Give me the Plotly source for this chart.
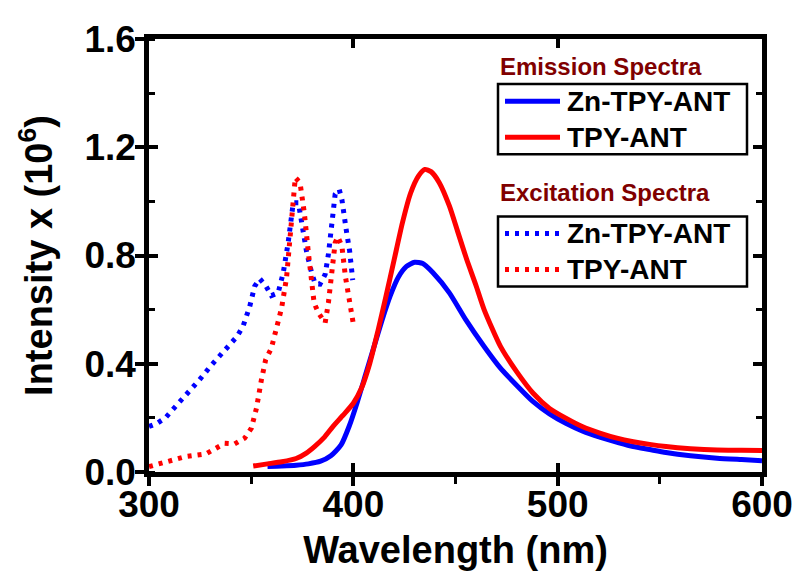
import plotly.graph_objects as go

# ---------------- data ----------------
em_zn_wl = [358, 365, 372, 378, 384, 389, 394, 398, 402, 406, 410, 414, 418, 422, 426, 430,
            434, 439, 447, 455, 464, 472, 480, 488, 496, 504, 512, 521, 530, 537, 545, 553,
            565, 578, 590, 600]
em_zn_i = [0.02, 0.022, 0.025, 0.03, 0.04, 0.06, 0.1, 0.17, 0.26, 0.36, 0.46, 0.56, 0.65, 0.72,
           0.76, 0.775, 0.77, 0.736, 0.662, 0.563, 0.464, 0.384, 0.32, 0.26, 0.215, 0.18, 0.152,
           0.128, 0.108, 0.094, 0.083, 0.072, 0.06, 0.051, 0.046, 0.042]

em_tpy_wl = [351, 358, 365, 372, 377, 381, 386, 390, 395, 400, 404, 408, 412, 416, 420, 424,
             428, 432, 435, 438, 442, 447, 451, 455.5, 460, 464, 472, 480, 488, 496, 504, 512,
             521, 529, 537, 545, 553, 565, 578, 590, 600]
em_tpy_i = [0.022, 0.03, 0.038, 0.05, 0.07, 0.094, 0.13, 0.168, 0.21, 0.254, 0.31, 0.40, 0.52,
            0.65, 0.785, 0.92, 1.03, 1.095, 1.118, 1.11, 1.07, 0.983, 0.89, 0.785, 0.69, 0.6,
            0.464, 0.37, 0.291, 0.235, 0.199, 0.168, 0.143, 0.125, 0.112, 0.102, 0.094, 0.086,
            0.081, 0.08, 0.079]

ex_zn_wl = [300, 304, 308, 313, 318, 324.6, 330, 335.3, 339.4, 343, 346, 349.3, 351.7, 354.2,
            357.1, 359.9, 363.2, 365.7, 368.1, 369.8, 370.6, 373.1, 374.7, 377.2, 379.6, 381.3,
            383.7, 386.2, 387.8, 389.5, 391.1, 393.1, 394.4, 396.5, 398.2, 399.7]
ex_zn_i = [0.168, 0.18, 0.2, 0.242, 0.28, 0.34, 0.39, 0.433, 0.47, 0.5, 0.538, 0.612, 0.686,
           0.714, 0.689, 0.652, 0.662, 0.736, 0.847, 0.958, 0.995, 0.995, 0.921, 0.81, 0.736,
           0.696, 0.694, 0.73, 0.804, 0.909, 1.026, 1.044, 1.007, 0.896, 0.816, 0.709]

ex_tpy_wl = [300, 308.2, 318, 327.9, 337, 341.9, 346.8, 350.1, 352.6, 355, 357.1, 359.9, 362.7,
             364.9, 367.3, 369, 370.3, 371.6, 373.9, 376, 378, 379.6, 380.8, 382.9, 386.2,
             387.8, 389.5, 391.1, 392.4, 394.4, 396.1, 398.2, 400.2]
ex_tpy_i = [0.02, 0.038, 0.057, 0.067, 0.106, 0.104, 0.125, 0.162, 0.236, 0.34, 0.415, 0.458,
            0.532, 0.606, 0.717, 0.859, 0.995, 1.088, 1.069, 0.958, 0.81, 0.699, 0.625, 0.588,
            0.551, 0.625, 0.736, 0.847, 0.869, 0.835, 0.723, 0.612, 0.538]

series_names = ["Zn-TPY-ANT", "TPY-ANT"]
group_titles = ["Emission Spectra", "Excitation Spectra"]
x_ticks = [300, 400, 500, 600]
y_ticks = [0.0, 0.4, 0.8, 1.2, 1.6]

BLUE = "#0000FF"
RED = "#FF0000"
DARKRED = "#800000"
FONT = "Liberation Sans, Arial, sans-serif"
DOT = "4px,6px"

fig = go.Figure()
fig.add_trace(go.Scatter(x=ex_zn_wl, y=ex_zn_i, mode="lines", name=series_names[0],
                         line=dict(color=BLUE, width=5, dash=DOT)))
fig.add_trace(go.Scatter(x=ex_tpy_wl, y=ex_tpy_i, mode="lines", name=series_names[1],
                         line=dict(color=RED, width=5, dash=DOT)))
fig.add_trace(go.Scatter(x=em_zn_wl, y=em_zn_i, mode="lines", name=series_names[0],
                         line=dict(color=BLUE, width=5, shape="spline", smoothing=0.6)))
fig.add_trace(go.Scatter(x=em_tpy_wl, y=em_tpy_i, mode="lines", name=series_names[1],
                         line=dict(color=RED, width=5, shape="spline", smoothing=0.6)))
# invisible trace that activates the overlay axes (used for crossing ticks)
fig.add_trace(go.Scatter(x=[None], y=[None], xaxis="x2", yaxis="y2", showlegend=False,
                         hoverinfo="skip"))

tickfont = dict(family=FONT, size=37, color="black", weight="bold")
common = dict(showgrid=False, zeroline=False, linecolor="black", linewidth=4.5,
              tickcolor="black", tickwidth=3.5, automargin=False)

fig.update_layout(
    width=798, height=574,
    margin=dict(l=149, r=36, t=39, b=102),
    paper_bgcolor="white", plot_bgcolor="white",
    showlegend=False,
    xaxis=dict(range=[300, 600], tickvals=x_ticks, ticks="outside", ticklen=9,
               ticklabelstandoff=-13,
               mirror=True, showline=True, tickfont=tickfont,
               minor=dict(ticks="outside", ticklen=7, dtick=50, tickwidth=3, tickcolor="black"),
               title=dict(text="Wavelength (nm)", standoff=14,
                          font=dict(family=FONT, size=38, color="black", weight="bold")),
               **common),
    yaxis=dict(range=[0, 1.6], tickvals=y_ticks, tickformat=".1f", ticks="outside", ticklen=9,
               ticklabelstandoff=-8,
               mirror=True, showline=True, tickfont=tickfont,
               minor=dict(ticks="inside", ticklen=6, dtick=0.2, tickwidth=3, tickcolor="black"),
               title=dict(text="Intensity x (10<sup>6</sup>)", standoff=22,
                          font=dict(family=FONT, size=38, color="black", weight="bold")),
               **common),
    xaxis2=dict(overlaying="x", anchor="y2", range=[300, 600], tickvals=x_ticks,
                ticks="inside", ticklen=9, showticklabels=False, showline=True, mirror="ticks",
                **common),
    yaxis2=dict(overlaying="y", anchor="x2", range=[0, 1.6], tickvals=y_ticks,
                ticks="inside", ticklen=9, showticklabels=False, showline=True, mirror="ticks",
                minor=dict(ticks="inside", ticklen=6, dtick=0.2, tickwidth=3, tickcolor="black"),
                **common),
)

# ---------------- custom legends ----------------
def px_x(p):
    return (p - 149) / 613.0

def px_y(p):
    return (472 - p) / 432.0

legend_specs = [
    (67, 85, 155, (102, 138), "solid"),
    (193, 217, 287, (234, 270), "dot"),
]
colors = [BLUE, RED]
for (ty, btop, bbot, rows, dash), gtitle in zip(legend_specs, group_titles):
    fig.add_annotation(xref="paper", yref="paper", x=px_x(498), y=px_y(ty), text=gtitle,
                       showarrow=False, xanchor="left", yanchor="middle",
                       font=dict(family=FONT, size=24, color=DARKRED, weight="bold"))
    fig.add_shape(type="rect", xref="paper", yref="paper",
                  x0=px_x(498), x1=px_x(747), y0=px_y(bbot), y1=px_y(btop),
                  line=dict(color="black", width=2.5), fillcolor="white", layer="above")
    for ry, col, name in zip(rows, colors, series_names):
        fig.add_shape(type="line", xref="paper", yref="paper",
                      x0=px_x(505), x1=px_x(560), y0=px_y(ry), y1=px_y(ry),
                      line=dict(color=col, width=5, dash=DOT if dash == "dot" else "solid"),
                      layer="above")
        fig.add_annotation(xref="paper", yref="paper", x=px_x(565), y=px_y(ry), text=name,
                           showarrow=False, xanchor="left", yanchor="middle",
                           font=dict(family=FONT, size=28, color="black", weight="bold"))

fig.write_html("out.html")
